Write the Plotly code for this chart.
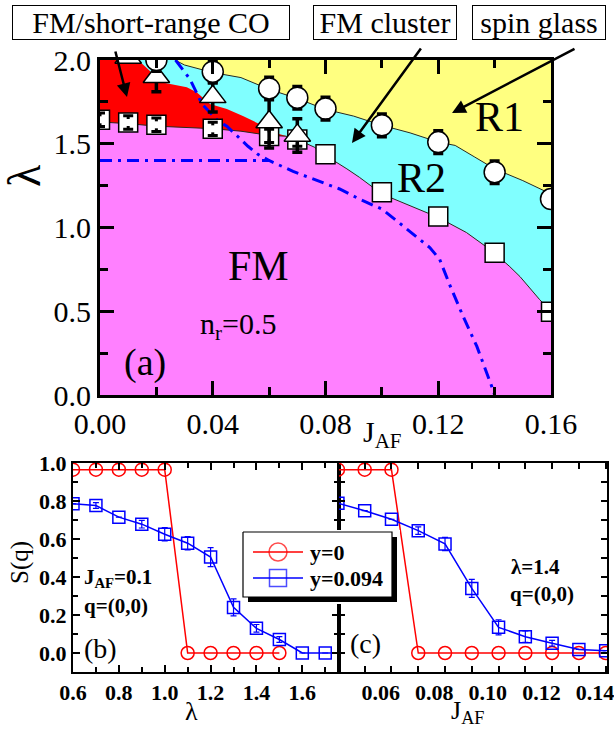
import plotly.graph_objects as go

W, H = 614, 729
FONT = "Liberation Serif, Times New Roman, serif"

# ---------------- panel (a): phase diagram ----------------
circ_J = [0.02, 0.04, 0.06, 0.07, 0.08, 0.10, 0.12, 0.14, 0.16]
circ_lam = [2.00, 1.93, 1.83, 1.775, 1.71, 1.61, 1.51, 1.33, 1.17]
circ_err = [0.066, 0.066, 0.066, 0.066, 0.066, 0.066, 0.066, 0.066, 0.0]

tri_J = [0.01, 0.02, 0.04, 0.06, 0.07]
tri_lam = [2.015, 1.90, 1.78, 1.63, 1.55]
tri_err = [0.0, 0.09, 0.09, 0.155, 0.10]

sq_J = [0.00, 0.01, 0.02, 0.04, 0.06, 0.07, 0.08, 0.10, 0.12, 0.14, 0.16]
sq_lam = [1.643, 1.627, 1.613, 1.589, 1.547, 1.525, 1.437, 1.21, 1.066, 0.85, 0.497]
sq_err = [0.04, 0.04, 0.04, 0.04, 0.04, 0.04, 0.0, 0.0, 0.0, 0.0, 0.0]

# spin glass (R1) / FM cluster (R2) boundary
sg_J = [0.0266, 0.030, 0.040, 0.050, 0.060, 0.070, 0.080, 0.090, 0.100, 0.110, 0.120, 0.126, 0.133, 0.140, 0.150, 0.160]
sg_lam = [2.00, 1.97, 1.925, 1.895, 1.825, 1.77, 1.705, 1.665, 1.61, 1.565, 1.51, 1.49, 1.42, 1.35, 1.28, 1.20]

# FM / short-range CO (red) upper boundary
co_J = [0.000, 0.0135, 0.018, 0.0213, 0.0308, 0.0343, 0.039, 0.045, 0.0507, 0.0567, 0.0614, 0.0663]
co_lam = [2.00, 2.00, 1.93, 1.868, 1.838, 1.808, 1.737, 1.707, 1.665, 1.617, 1.569, 1.545]

# FM (magenta) upper boundary
fm_J = [0.000, 0.010, 0.020, 0.040, 0.050, 0.060, 0.066, 0.070, 0.076, 0.080, 0.0876, 0.092, 0.100, 0.110, 0.120, 0.130, 0.1394, 0.1454, 0.149, 0.156, 0.160]
fm_lam = [1.63, 1.62, 1.605, 1.59, 1.575, 1.55, 1.545, 1.525, 1.48, 1.43, 1.35, 1.30, 1.20, 1.13, 1.06, 0.97, 0.856, 0.766, 0.707, 0.569, 0.50]

# dash-dot lines
dd1_J = [0.000, 0.060, 0.0685, 0.077, 0.085, 0.092, 0.100, 0.106, 0.112, 0.117, 0.1205, 0.124, 0.1288, 0.1337, 0.139, 0.140]
dd1_lam = [1.40, 1.40, 1.335, 1.28, 1.23, 1.17, 1.11, 1.03, 0.95, 0.88, 0.81, 0.66, 0.47, 0.29, 0.05, 0.0]
dd2_J = [0.0268, 0.0319, 0.0362, 0.039, 0.0419, 0.045, 0.049, 0.0525, 0.056, 0.060]
dd2_lam = [2.00, 1.886, 1.737, 1.689, 1.635, 1.605, 1.539, 1.485, 1.437, 1.40]

# ---------------- panel (b): S(q) vs lambda, J_AF = 0.1 ----------------
b_lam_red = [0.6, 0.7, 0.8, 0.9, 1.0, 1.1, 1.2, 1.3, 1.4, 1.5]
b_S_red = [0.965, 0.965, 0.965, 0.965, 0.965, 0.0, 0.0, 0.0, 0.0, 0.0]
b_lam_blue = [0.6, 0.7, 0.8, 0.9, 1.0, 1.1, 1.2, 1.3, 1.4, 1.5, 1.6, 1.7, 1.8]
b_S_blue = [0.785, 0.776, 0.715, 0.678, 0.625, 0.578, 0.505, 0.24, 0.13, 0.071, 0.0, 0.0, 0.0]
b_err_blue = [0.0, 0.015, 0.0, 0.02, 0.035, 0.035, 0.05, 0.045, 0.02, 0.015, 0.0, 0.0, 0.0]

# ---------------- panel (c): S(q) vs J_AF, lambda = 1.4 ----------------
c_J = [0.044, 0.054, 0.064, 0.074, 0.084, 0.094, 0.104, 0.114, 0.124, 0.134, 0.144]
c_S_red = [0.965, 0.965, 0.965, 0.0, 0.0, 0.0, 0.0, 0.0, 0.0, 0.0, 0.0]
c_S_blue = [0.788, 0.749, 0.704, 0.644, 0.574, 0.34, 0.135, 0.086, 0.051, 0.019, 0.012]
c_err_blue = [0.0, 0.0, 0.0, 0.02, 0.035, 0.047, 0.04, 0.03, 0.015, 0.0, 0.0]

c_ticks = [0.06, 0.08, 0.10, 0.12, 0.14]
c_ticktext = ["0.06", "0.08", "0.10", "0.12", "0.14"]

legend_labels = ["y=0", "y=0.094"]

MAGENTA = "#FF80FF"
RED = "#FF0000"
CYAN = "#80FFFF"
YELLOW = "#FFFF80"
BORDER = "#2a2a1a"


def PX(x):
    return x / W


def PY(y):
    return 1 - y / H


def nz(errs):
    """Zero error -> no error bar drawn."""
    return [e if e > 0 else None for e in errs]


# squares that carry error bars
sq_eJ = [j for j, e in zip(sq_J, sq_err) if e > 0]
sq_eL = [l for l, e in zip(sq_lam, sq_err) if e > 0]
sq_eE = [e for e in sq_err if e > 0]

fig = go.Figure()

# --- region fills (a) ---
fig.add_trace(go.Scatter(x=sg_J + [0.16], y=sg_lam + [2.0], fill="toself", fillcolor=YELLOW,
                         mode="lines", line=dict(width=0), xaxis="x", yaxis="y", hoverinfo="skip"))
fig.add_trace(go.Scatter(x=[0.0] + sg_J + [0.16, 0.0], y=[2.0] + sg_lam + [0.0, 0.0], fill="toself",
                         fillcolor=CYAN, mode="lines", line=dict(width=0), xaxis="x", yaxis="y", hoverinfo="skip"))
fig.add_trace(go.Scatter(x=co_J + [co_J[-1], 0.0], y=co_lam + [0.0, 0.0], fill="toself",
                         fillcolor=RED, mode="lines", line=dict(width=0), xaxis="x", yaxis="y", hoverinfo="skip"))
fig.add_trace(go.Scatter(x=fm_J + [0.16, 0.0], y=fm_lam + [0.0, 0.0], fill="toself",
                         fillcolor=MAGENTA, mode="lines", line=dict(width=0), xaxis="x", yaxis="y", hoverinfo="skip"))
# boundary lines
fig.add_trace(go.Scatter(x=sg_J, y=sg_lam, mode="lines", line=dict(color=BORDER, width=1),
                         xaxis="x", yaxis="y", hoverinfo="skip"))
fig.add_trace(go.Scatter(x=fm_J, y=fm_lam, mode="lines", line=dict(color=BORDER, width=1),
                         xaxis="x", yaxis="y", hoverinfo="skip"))
# dash-dot lines
for xs, ys in ((dd1_J, dd1_lam), (dd2_J, dd2_lam)):
    fig.add_trace(go.Scatter(x=xs, y=ys, mode="lines",
                             line=dict(color="#0000FF", width=3, dash="12px,6px,3px,6px"),
                             xaxis="x", yaxis="y", hoverinfo="skip"))

# squares
fig.add_trace(go.Scatter(x=sq_J, y=sq_lam, mode="markers",
                         marker=dict(symbol="square", size=19, color="white",
                                     line=dict(color="black", width=1.5)),
                         xaxis="x", yaxis="y"))
fig.add_trace(go.Scatter(x=sq_eJ, y=sq_eL, mode="markers",
                         marker=dict(size=1, color="rgba(0,0,0,0)"),
                         error_y=dict(type="data", array=sq_eE, color="black", thickness=3, width=5),
                         xaxis="x", yaxis="y"))
fig.add_trace(go.Scatter(x=sq_eJ, y=sq_eL, mode="markers",
                         marker=dict(symbol="square", size=7, color="white", line=dict(width=0)),
                         xaxis="x", yaxis="y"))
# triangles
fig.add_trace(go.Scatter(x=tri_J, y=tri_lam, mode="markers",
                         marker=dict(symbol="triangle-up", size=23, color="white",
                                     line=dict(color="black", width=1.5)),
                         error_y=dict(type="data", array=nz(tri_err), color="black", thickness=3.5, width=5),
                         xaxis="x", yaxis="y"))
# circles
fig.add_trace(go.Scatter(x=circ_J, y=circ_lam, mode="markers",
                         marker=dict(symbol="circle", size=21, color="white",
                                     line=dict(color="black", width=1.5)),
                         error_y=dict(type="data", array=nz(circ_err), color="black", thickness=4, width=5),
                         xaxis="x", yaxis="y"))

# --- panel (b) ---
fig.add_trace(go.Scatter(x=b_lam_red, y=b_S_red, mode="lines+markers",
                         line=dict(color=RED, width=1.5),
                         marker=dict(symbol="circle-open", size=13, color=RED, line=dict(width=1.5)),
                         xaxis="x2", yaxis="y2"))
fig.add_trace(go.Scatter(x=b_lam_blue, y=b_S_blue, mode="lines+markers",
                         line=dict(color="#0000FF", width=1.5),
                         marker=dict(symbol="square-open", size=12, color="#0000FF", line=dict(width=1.5)),
                         error_y=dict(type="data", array=nz(b_err_blue), color="#0000FF", thickness=1.2, width=3),
                         xaxis="x2", yaxis="y2"))

# --- panel (c) ---
fig.add_trace(go.Scatter(x=c_J, y=c_S_red, mode="lines+markers",
                         line=dict(color=RED, width=1.5),
                         marker=dict(symbol="circle-open", size=13, color=RED, line=dict(width=1.5)),
                         xaxis="x3", yaxis="y3"))
fig.add_trace(go.Scatter(x=c_J, y=c_S_blue, mode="lines+markers",
                         line=dict(color="#0000FF", width=1.5),
                         marker=dict(symbol="square-open", size=12, color="#0000FF", line=dict(width=1.5)),
                         error_y=dict(type="data", array=nz(c_err_blue), color="#0000FF", thickness=1.2, width=3),
                         xaxis="x3", yaxis="y3"))

# --- legend box (own pixel-unit subplot) ---
fig.add_trace(go.Scatter(x=[248, 397, 397, 248, 248], y=[537, 537, 602, 602, 537], fill="toself",
                         fillcolor="black", mode="lines", line=dict(width=0), xaxis="x4", yaxis="y4",
                         hoverinfo="skip"))
fig.add_trace(go.Scatter(x=[243, 392, 392, 243, 243], y=[532, 532, 597, 597, 532], fill="toself",
                         fillcolor="white", mode="lines", line=dict(color="black", width=1.2),
                         xaxis="x4", yaxis="y4", hoverinfo="skip"))
fig.add_trace(go.Scatter(x=[253, 278, 303], y=[552, 552, 552], mode="lines+markers",
                         line=dict(color=RED, width=1.5),
                         marker=dict(symbol="circle-open", size=[0, 18, 0], color=RED, line=dict(width=1.5)),
                         xaxis="x4", yaxis="y4"))
fig.add_trace(go.Scatter(x=[253, 278, 303], y=[578, 578, 578], mode="lines+markers",
                         line=dict(color="#0000FF", width=1.5),
                         marker=dict(symbol="square-open", size=[0, 17, 0], color="#0000FF", line=dict(width=1.5)),
                         xaxis="x4", yaxis="y4"))

big_font = dict(family=FONT, size=30, color="black")
small_font = dict(family=FONT, size=22, color="black", weight="bold")

common_a = dict(showline=True, linecolor="black", linewidth=3, mirror="ticks", ticks="inside",
                ticklen=14, tickwidth=3, tickcolor="black", showgrid=False, zeroline=False,
                tickfont=big_font, ticklabeloverflow="allow")
common_b = dict(showline=True, linecolor="black", linewidth=2, mirror="ticks", ticks="inside",
                ticklen=7, tickwidth=2, tickcolor="black", showgrid=False, zeroline=False,
                tickfont=small_font, ticklabeloverflow="allow")

fig.update_layout(
    width=W, height=H, autosize=False,
    margin=dict(l=0, r=0, t=0, b=0, autoexpand=False),
    paper_bgcolor="white", plot_bgcolor="white",
    showlegend=False,
    xaxis=dict(domain=[100 / W, 551 / W], range=[0, 0.16], anchor="y", dtick=0.04, tick0=0,
               tickformat=".2f",
               minor=dict(dtick=0.02, ticks="inside", ticklen=8, tickwidth=3, tickcolor="black"),
               **common_a),
    yaxis=dict(domain=[PY(395), PY(60)], range=[0, 2], anchor="x", dtick=0.5, tick0=0,
               tickformat=".1f",
               minor=dict(dtick=0.25, ticks="inside", ticklen=8, tickwidth=3, tickcolor="black"),
               **common_a),
    xaxis2=dict(domain=[73 / W, 339 / W], range=[0.6, 1.76], anchor="y2", dtick=0.2, tick0=0,
                tickformat=".1f",
                minor=dict(dtick=0.1, ticks="inside", ticklen=5, tickwidth=2, tickcolor="black"),
                **common_b),
    yaxis2=dict(domain=[PY(672), PY(463)], range=[-0.1, 1.0], anchor="x2", dtick=0.2, tick0=0,
                tickformat=".1f",
                minor=dict(dtick=0.1, ticks="inside", ticklen=5, tickwidth=2, tickcolor="black"),
                **common_b),
    xaxis3=dict(domain=[339 / W, 607 / W], range=[0.0444, 0.1445], anchor="y3",
                tickmode="array", tickvals=c_ticks, ticktext=c_ticktext,
                minor=dict(tick0=0.044, dtick=0.01, ticks="inside", ticklen=6, tickwidth=2,
                           tickcolor="black"),
                **{**common_b, "ticklen": 0}),
    yaxis3=dict(domain=[PY(672), PY(463)], range=[-0.1, 1.0], anchor="x3", dtick=0.1, tick0=0,
                showticklabels=False, **{**common_b, "ticklen": 6}),
    xaxis4=dict(domain=[241 / W, 400 / W], range=[241, 400], anchor="y4", visible=False,
                showgrid=False, zeroline=False),
    yaxis4=dict(domain=[PY(604), PY(530)], range=[604, 530], anchor="x4", visible=False,
                showgrid=False, zeroline=False),
)

ann = []


def text(x, y, s, size, xanchor="center", angle=0, bold=False):
    f = dict(family=FONT, size=size, color="black")
    if bold:
        f["weight"] = "bold"
    ann.append(dict(x=PX(x), y=PY(y), xref="paper", yref="paper", text=s, showarrow=False,
                    font=f, xanchor=xanchor, yanchor="middle", textangle=angle))


# labelled boxes above panel (a)
for label, cx, w in (("FM/short-range CO", 151, 276), ("FM cluster", 385, 142), ("spin glass", 539, 132)):
    ann.append(dict(x=PX(cx), y=PY(22.5), xref="paper", yref="paper", text=label, showarrow=False,
                    font=dict(family=FONT, size=30, color="black"), bordercolor="black",
                    borderwidth=1, borderpad=0, bgcolor="white", width=w, height=33,
                    xanchor="center", yanchor="middle"))

# arrows
for hx, hy, axp, ayp in ((127, 97, -12, -47), (352, 143, 70, -96), (452, 113, 124, -65)):
    ann.append(dict(x=PX(hx), y=PY(hy), xref="paper", yref="paper", text="", showarrow=True,
                    ax=axp, ay=ayp, arrowhead=2, arrowsize=1.1, arrowwidth=2.5, arrowcolor="black"))

text(499, 117, "R1", 42)
text(421, 178, "R2", 42)
text(258, 266, "FM", 42)
text(198, 326, "n<sub>r</sub>=0.5", 30, xanchor="left")
text(145, 362, "(a)", 38)
text(24, 175, "λ", 46, angle=-90)
text(382, 434, "J<sub>AF</sub>", 30)

# panel (b)
text(82, 578, "J<sub>AF</sub>=0.1", 21, xanchor="left", bold=True)
text(82, 606, "q=(0,0)", 21, xanchor="left", bold=True)
text(82, 648, "(b)", 28, xanchor="left")
text(192, 711, "λ", 26)
text(20, 563, "S(q)", 25, angle=-90)

# panel (c)
text(509, 567, "λ=1.4", 21, xanchor="left", bold=True)
text(508, 594, "q=(0,0)", 21, xanchor="left", bold=True)
text(348, 643, "(c)", 28, xanchor="left")
text(467, 712, "J<sub>AF</sub>", 26)

# legend labels
text(308, 552, legend_labels[0], 22, xanchor="left", bold=True)
text(308, 578, legend_labels[1], 22, xanchor="left", bold=True)

fig.update_layout(annotations=ann)

fig.write_html("out.html", config={"displayModeBar": False},
               post_script="document.body.style.margin='0px';")
